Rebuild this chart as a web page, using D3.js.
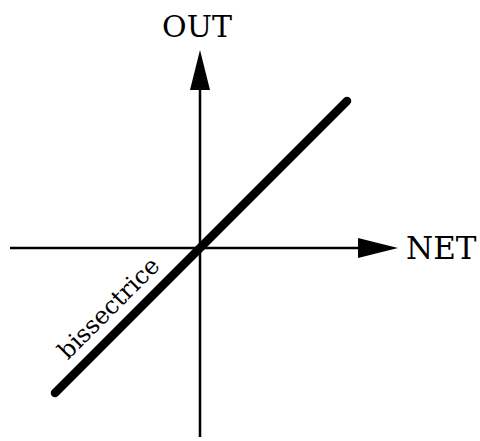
<!DOCTYPE html>
<html>
<head>
<meta charset="utf-8">
<script src="https://cdn.jsdelivr.net/npm/d3@7"></script>
<style>
  html, body { margin: 0; padding: 0; background: #fff; }
  svg { display: block; }
</style>
</head>
<body>
<div id="chart"></div>
<script>
// axis extents in data units (origin at 0,0)
const netRange = [-0.95, 0.99];
const outRange = [-0.945, 0.99];
// bisector y = x
const bisector = [-0.725, 0.735];
const axisLabels = ["NET", "OUT"];
const lineLabel = "bissectrice";

const width = 480;
const height = 441;

const x = d3.scaleLinear().domain([-1, 1]).range([0, 400]);
const y = d3.scaleLinear().domain([-1, 1]).range([448, 48]);

const svg = d3.select("#chart")
  .append("svg")
  .attr("width", width)
  .attr("height", height);

const arrowLen = 40;
const arrowHalf = 10;

// horizontal axis (NET)
svg.append("line")
  .attr("x1", x(netRange[0]))
  .attr("x2", x(netRange[1]) - arrowLen + 2)
  .attr("y1", y(0))
  .attr("y2", y(0))
  .attr("stroke", "#000")
  .attr("stroke-width", 2.5);

svg.append("path")
  .attr("d", d3.line()([
    [x(netRange[1]), y(0)],
    [x(netRange[1]) - arrowLen, y(0) - arrowHalf],
    [x(netRange[1]) - arrowLen, y(0) + arrowHalf]
  ]) + "Z")
  .attr("fill", "#000");

// vertical axis (OUT)
svg.append("line")
  .attr("x1", x(0))
  .attr("x2", x(0))
  .attr("y1", y(outRange[0]))
  .attr("y2", y(outRange[1]) + arrowLen - 2)
  .attr("stroke", "#000")
  .attr("stroke-width", 2.5);

svg.append("path")
  .attr("d", d3.line()([
    [x(0), y(outRange[1])],
    [x(0) - arrowHalf, y(outRange[1]) + arrowLen],
    [x(0) + arrowHalf, y(outRange[1]) + arrowLen]
  ]) + "Z")
  .attr("fill", "#000");

// bisector
svg.append("path")
  .datum(bisector)
  .attr("d", d3.line().x(d => x(d)).y(d => y(d)))
  .attr("stroke", "#000")
  .attr("stroke-width", 8.5)
  .attr("stroke-linecap", "round")
  .attr("fill", "none");

// axis labels
svg.append("text")
  .attr("x", x(netRange[1]) + 8)
  .attr("y", y(0) + 11)
  .attr("font-family", "DejaVu Serif")
  .attr("font-size", 31)
  .text(axisLabels[0]);

svg.append("text")
  .attr("x", x(0) - 3)
  .attr("y", 37)
  .attr("text-anchor", "middle")
  .attr("font-family", "DejaVu Serif")
  .attr("font-size", 30)
  .text(axisLabels[1]);

// bisector label, along the line
const t0 = -0.7;
svg.append("text")
  .attr("transform", `translate(${x(t0)},${y(t0)}) rotate(-45)`)
  .attr("x", 25)
  .attr("y", -14)
  .attr("font-family", "DejaVu Serif")
  .attr("font-size", 24)
  .text(lineLabel);
</script>
</body>
</html>
